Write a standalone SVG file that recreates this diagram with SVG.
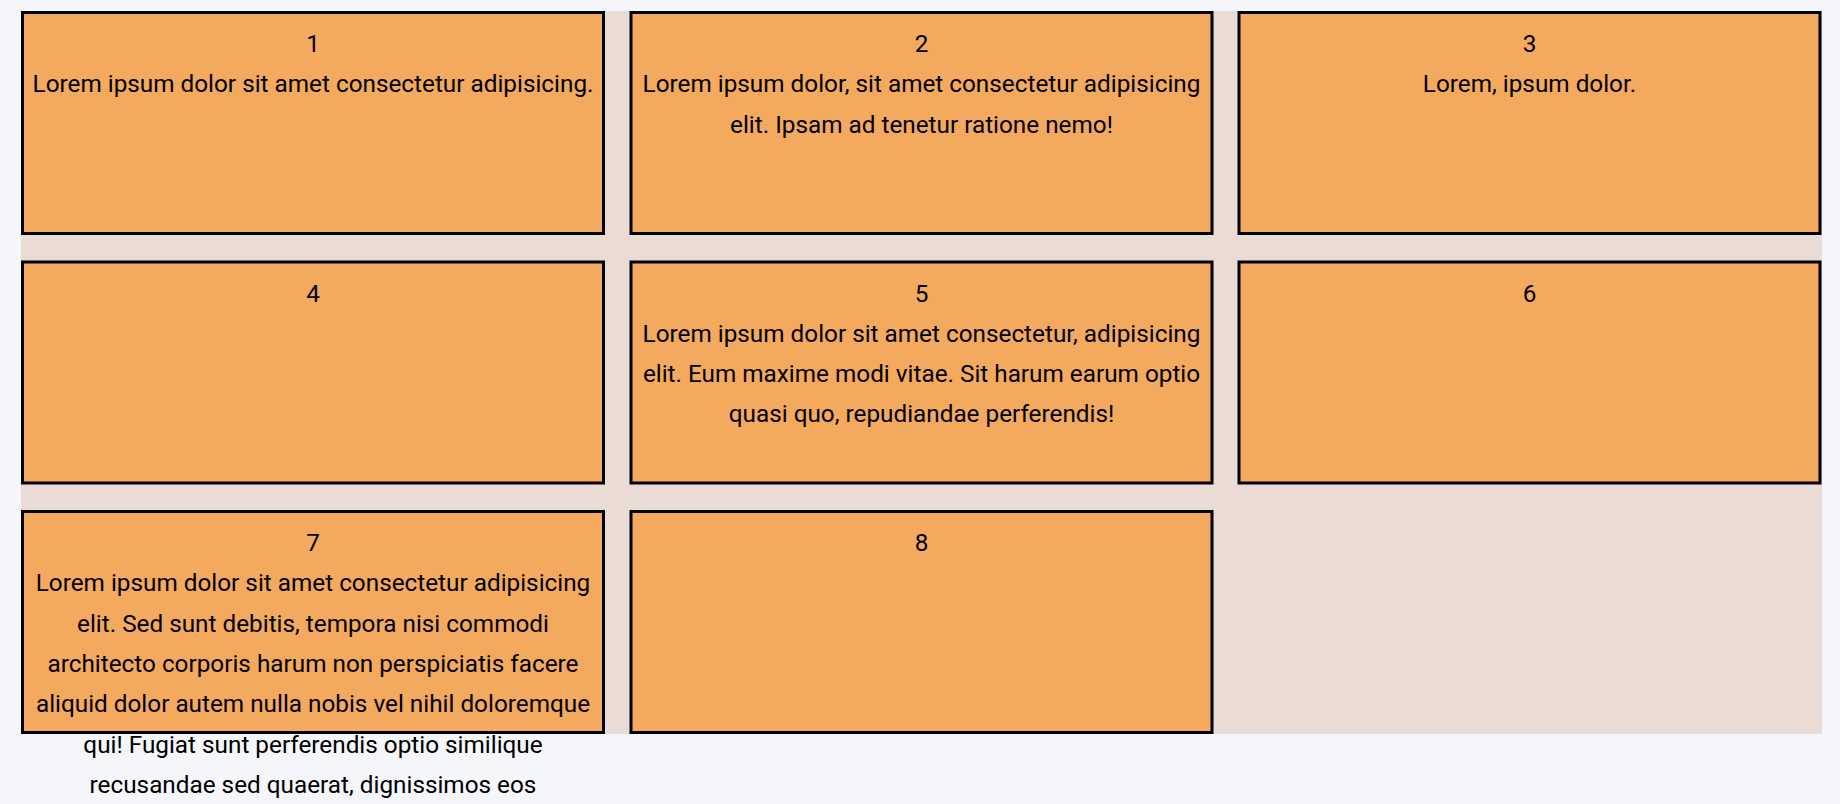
<svg xmlns="http://www.w3.org/2000/svg" width="1840" height="804" viewBox="0 0 1840 804">
<style>
.box{fill:#F3AA5E;stroke:#000;stroke-width:3}
.t{font-family:Roboto,"Liberation Sans",sans-serif;font-size:24.3px;fill:#000;text-anchor:middle}
</style>
<rect x="0" y="0" width="1840" height="804" fill="#F5F6FA"/>
<rect id="container" x="21" y="11" width="1801" height="723" fill="#EADBD4"/>
<g id="node1">
<rect class="box" x="22.5" y="12.5" width="581" height="221"/>
<text class="t" x="313" y="52">1</text>
<text class="t" x="313" y="92.3">Lorem ipsum dolor sit amet consectetur adipisicing.</text>
</g>
<g id="node2">
<rect class="box" x="631" y="12.5" width="581" height="221"/>
<text class="t" x="921.5" y="52">2</text>
<text class="t" x="921.5" y="92.3">Lorem ipsum dolor, sit amet consectetur adipisicing</text>
<text class="t" x="921.5" y="132.6">elit. Ipsam ad tenetur ratione nemo!</text>
</g>
<g id="node3">
<rect class="box" x="1239" y="12.5" width="581" height="221"/>
<text class="t" x="1529.5" y="52">3</text>
<text class="t" x="1529.5" y="92.3">Lorem, ipsum dolor.</text>
</g>
<g id="node4">
<rect class="box" x="22.5" y="262" width="581" height="221"/>
<text class="t" x="313" y="301.5">4</text>
</g>
<g id="node5">
<rect class="box" x="631" y="262" width="581" height="221"/>
<text class="t" x="921.5" y="301.5">5</text>
<text class="t" x="921.5" y="341.8">Lorem ipsum dolor sit amet consectetur, adipisicing</text>
<text class="t" x="921.5" y="382.1">elit. Eum maxime modi vitae. Sit harum earum optio</text>
<text class="t" x="921.5" y="422.4">quasi quo, repudiandae perferendis!</text>
</g>
<g id="node6">
<rect class="box" x="1239" y="262" width="581" height="221"/>
<text class="t" x="1529.5" y="301.5">6</text>
</g>
<g id="node7">
<rect class="box" x="22.5" y="511.5" width="581" height="221"/>
<text class="t" x="313" y="551">7</text>
<text class="t" x="313" y="591.3">Lorem ipsum dolor sit amet consectetur adipisicing</text>
<text class="t" x="313" y="631.6">elit. Sed sunt debitis, tempora nisi commodi</text>
<text class="t" x="313" y="671.9">architecto corporis harum non perspiciatis facere</text>
<text class="t" x="313" y="712.2">aliquid dolor autem nulla nobis vel nihil doloremque</text>
<text class="t" x="313" y="752.5">qui! Fugiat sunt perferendis optio similique</text>
<text class="t" x="313" y="792.8">recusandae sed quaerat, dignissimos eos</text>
</g>
<g id="node8">
<rect class="box" x="631" y="511.5" width="581" height="221"/>
<text class="t" x="921.5" y="551">8</text>
</g>
<g id="connectors"></g>
</svg>
